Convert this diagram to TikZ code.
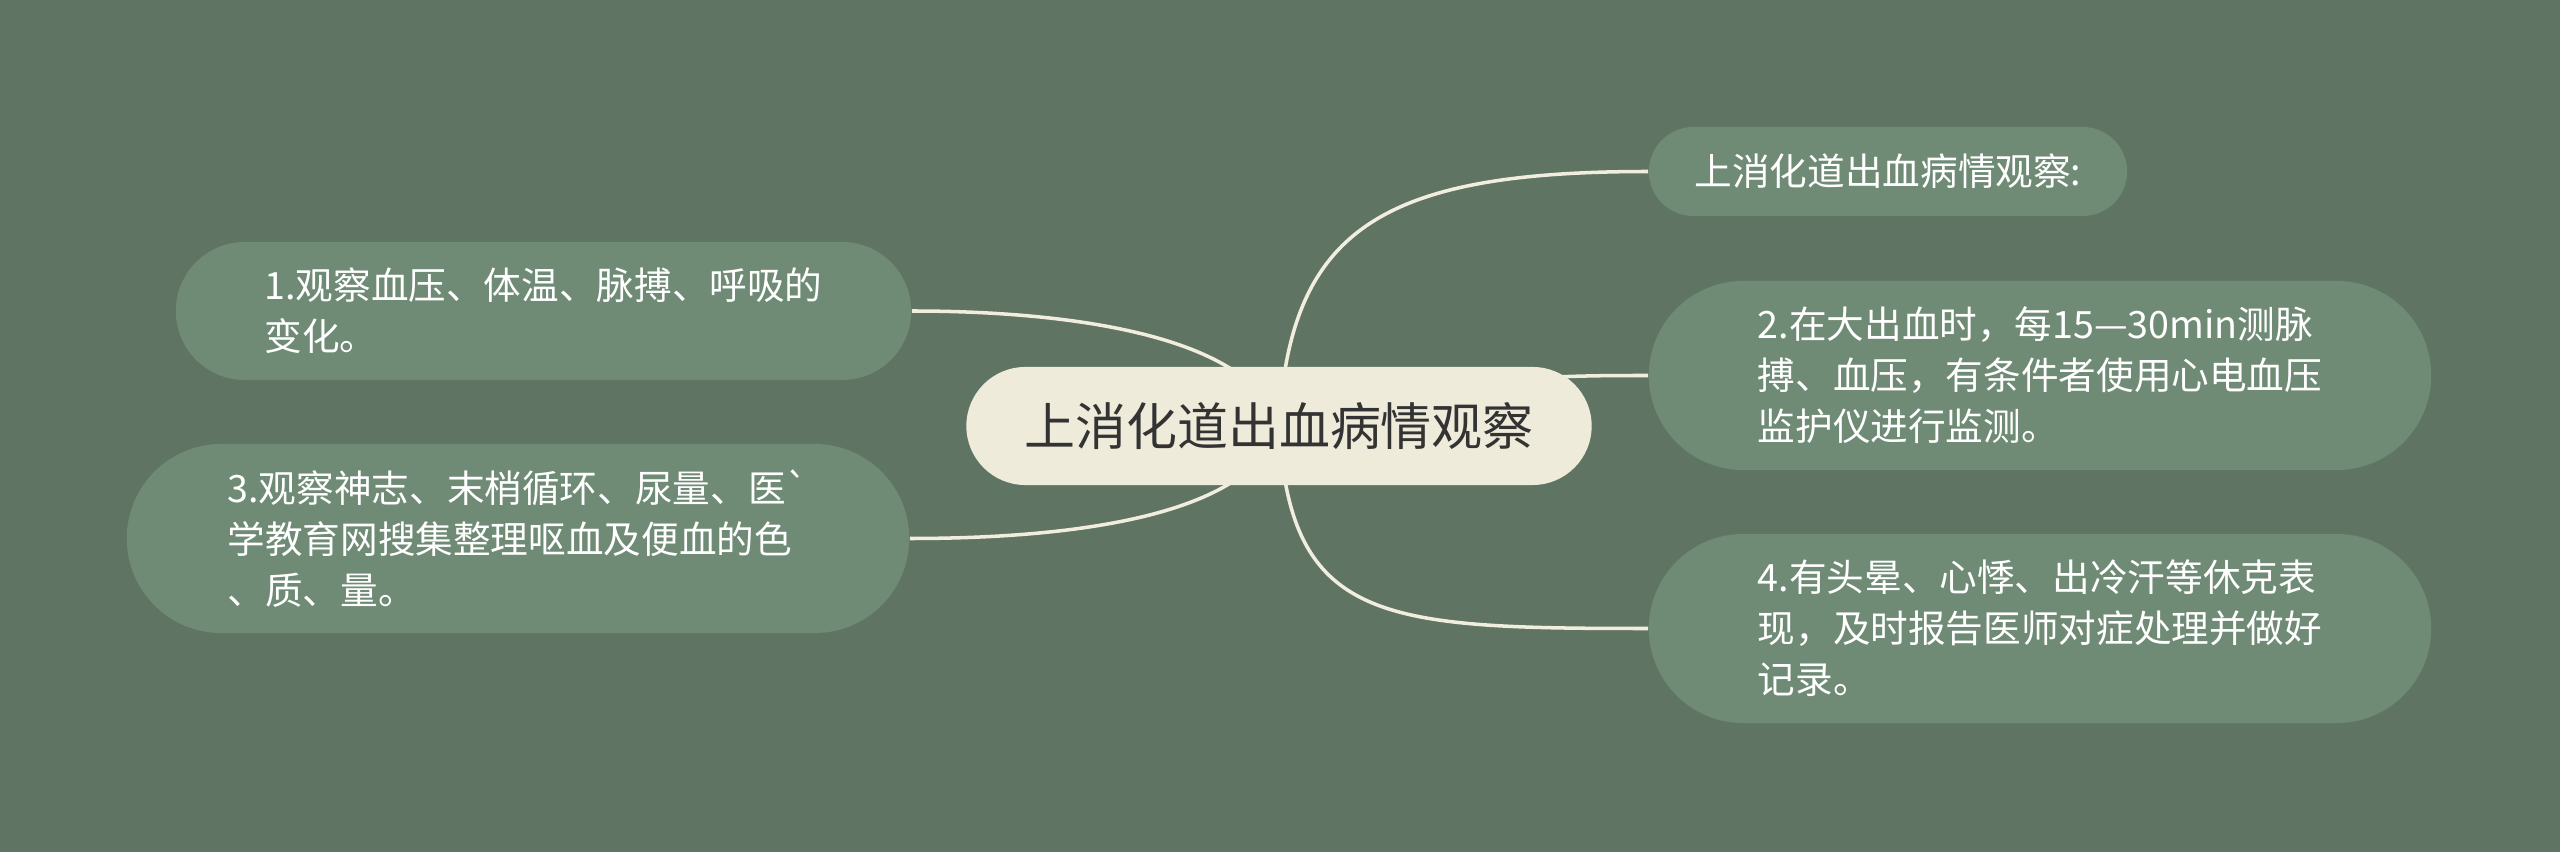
\documentclass[tikz,border=0pt]{standalone}
\usepackage{fontspec}
\setmainfont{Noto Sans CJK SC}[Ligatures=TeXOff]
\usetikzlibrary{shapes.misc}
\usetikzlibrary{backgrounds}

\definecolor{bgcol}{HTML}{607463}
\definecolor{leafcol}{HTML}{6F8B75}
\definecolor{rootcol}{HTML}{EFEBDA}
\definecolor{linkcol}{HTML}{F2EEDF}
\definecolor{inkcol}{HTML}{333333}

\begin{document}
\begin{tikzpicture}[x=0.01cm,y=-0.01cm]
				\tikzstyle{pill}=[rounded rectangle,inner sep=0pt,align=left]
				\tikzstyle{leaf}=[pill,fill=leafcol,text=white,font=\fontsize{10.7}{14.5}\selectfont]
				\tikzstyle{root}=[pill,fill=rootcol,text=inkcol,font=\fontsize{14.5}{17}\selectfont]
				\tikzstyle{link}=[draw=linkcol,line width=1pt]
				
				\useasboundingbox (0,0) rectangle (2560,852);
				
				\node[root,minimum width=6.25cm,minimum height=1.18cm] (main) at (1279,426) {上消化道出血病情观察};
				
				\node[leaf,minimum width=4.78cm,minimum height=0.89cm] (r1) at (1888,171.5) {上消化道出血病情观察:};
				\node[leaf,minimum width=7.82cm,minimum height=1.89cm] (r2) at (2040,375.5) {2.在大出血时，每15—30min测脉\\搏、血压，有条件者使用心电血压\\监护仪进行监测。};
				\node[leaf,minimum width=7.82cm,minimum height=1.89cm] (r4) at (2040,628.5) {4.有头晕、心悸、出冷汗等休克表\\现，及时报告医师对症处理并做好\\记录。};
				
				\node[leaf,minimum width=7.35cm,minimum height=1.38cm] (l1) at (543.5,311) {1.观察血压、体温、脉搏、呼吸的\\变化。};
				\node[leaf,minimum width=7.82cm,minimum height=1.89cm] (l3) at (518,538.5) {3.观察神志、末梢循环、尿量、医`\\学教育网搜集整理呕血及便血的色\\、质、量。};
				
				\begin{pgfonlayer}{background}
				\fill[bgcol] (0,0) rectangle (2560,852);
				\draw[link] (main.center) .. controls (1290,230) and (1380,171.5) .. (r1.west);
				\draw[link] (main.center) .. controls (1450,376) and (1550,375.5) .. (r2.west);
				\draw[link] (main.center) .. controls (1290,622) and (1380,628.5) .. (r4.west);
				\draw[link] (main.center) .. controls (1250,330) and (1050,311) .. (l1.east);
				\draw[link] (main.center) .. controls (1250,522) and (1050,538.5) .. (l3.east);
				\end{pgfonlayer}
				
\end{tikzpicture}
\end{document}
